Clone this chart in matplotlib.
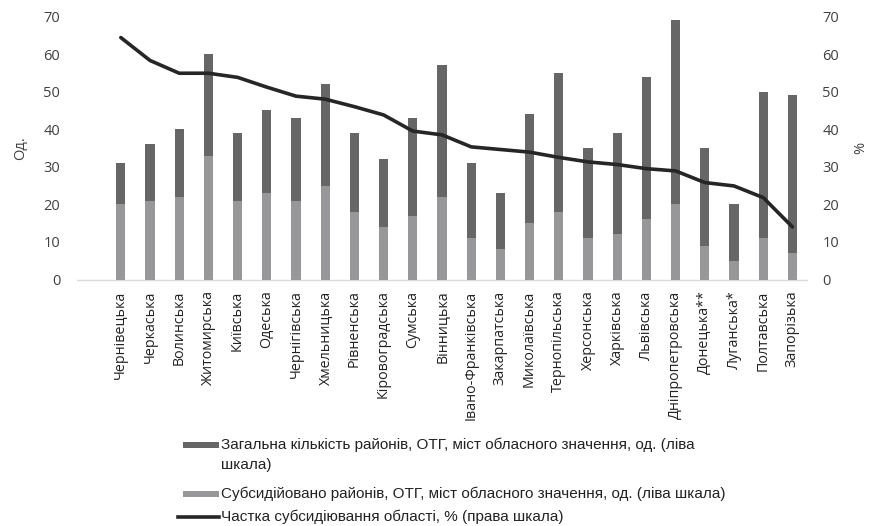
import matplotlib
matplotlib.use("Agg")
import matplotlib.pyplot as plt
import numpy as np
from matplotlib.patches import Rectangle
from matplotlib.lines import Line2D

plt.rcParams['font.family'] = ['Open Sans', 'DejaVu Sans']

regions = ["Чернівецька", "Черкаська", "Волинська", "Житомирська", "Київська", "Одеська",
           "Чернігівська", "Хмельницька", "Рівненська", "Кіровоградська", "Сумська", "Вінницька",
           "Івано-Франківська", "Закарпатська", "Миколаївська", "Тернопільська", "Херсонська",
           "Харківська", "Львівська", "Дніпропетровська", "Донецька**", "Луганська*",
           "Полтавська", "Запорізька"]
total_units = [31, 36, 40, 60, 39, 45, 43, 52, 39, 32, 43, 57, 31, 23, 44, 55, 35, 39, 54, 69, 35, 20, 50, 49]
subsidized_units = [20, 21, 22, 33, 21, 23, 21, 25, 18, 14, 17, 22, 11, 8, 15, 18, 11, 12, 16, 20, 9, 5, 11, 7]
share_pct = [64.4, 58.3, 54.9, 54.9, 53.8, 51.2, 48.8, 48.0, 46.0, 43.8, 39.5, 38.5,
             35.3, 34.6, 33.9, 32.5, 31.3, 30.6, 29.5, 28.9, 25.8, 24.9, 21.8, 14.0]

label_total = "Загальна кількість районів, ОТГ, міст обласного значення, од. (ліва\nшкала)"
label_sub = "Субсидійовано районів, ОТГ, міст обласного значення, од. (ліва шкала)"
label_share = "Частка субсидіювання області, % (права шкала)"

W, H = 869, 526
fig = plt.figure(figsize=(W / 100, H / 100), dpi=100)
ax = fig.add_axes([77 / W, 1 - 279.5 / H, (807 - 77) / W, (279.5 - 16.5) / H])
ax2 = ax.twinx()

x = np.arange(len(regions))
dark = "#666666"
light = "#979799"
txt = "#404040"
line_c = "#262626"

ax.bar(x, total_units, width=0.32, color=dark, zorder=2)
ax.bar(x, subsidized_units, width=0.32, color=light, zorder=3)
ax2.plot(x, share_pct, color=line_c, lw=2.6, solid_capstyle="round", zorder=4)

for a in (ax, ax2):
    a.set_ylim(0, 70)
    a.set_yticks(range(0, 71, 10))
    a.set_xlim(-1.5, 23.5)
    for s in a.spines.values():
        s.set_visible(False)
    a.tick_params(length=0, labelsize=10.5, labelcolor=txt)

ax.spines['bottom'].set_visible(True)
ax.spines['bottom'].set_color("#d9d9d9")
ax.spines['bottom'].set_linewidth(1.0)

ax.set_xticks(x)
ax.set_xticklabels(regions, rotation=90, fontsize=10.3, color="#222222")
ax.tick_params(axis='x', pad=8)
ax.tick_params(axis='y', pad=12)
ax2.tick_params(axis='y', pad=11)

ax.set_ylabel("Од.", fontsize=10.5, color=txt, labelpad=11)
ax2.set_ylabel("%", fontsize=10.5, color=txt, labelpad=10)

# legend (drawn in figure pixel coordinates)
def fx(px):
    return px / W

def fy(py):
    return 1 - py / H

leg_font = dict(fontsize=11, color="#222222", family=['Liberation Sans Narrow', 'Liberation Sans', 'DejaVu Sans'])
fig.add_artist(Rectangle((fx(183), fy(447.5)), fx(219) - fx(183), 5.5 / H,
                         facecolor=dark, edgecolor='none', transform=fig.transFigure))
fig.text(fx(221), fy(445), label_total.split("\n")[0], va='center', ha='left', **leg_font)
fig.text(fx(221), fy(465), label_total.split("\n")[1], va='center', ha='left', **leg_font)
fig.add_artist(Rectangle((fx(183), fy(496.5)), fx(219) - fx(183), 5.5 / H,
                         facecolor=light, edgecolor='none', transform=fig.transFigure))
fig.text(fx(221), fy(494), label_sub, va='center', ha='left', **leg_font)
fig.add_artist(Line2D([fx(178), fx(219)], [fy(517), fy(517)], color=line_c, lw=2.6,
                      transform=fig.transFigure))
fig.text(fx(221), fy(517), label_share, va='center', ha='left', **leg_font)

fig.savefig("out.png", dpi=100)
